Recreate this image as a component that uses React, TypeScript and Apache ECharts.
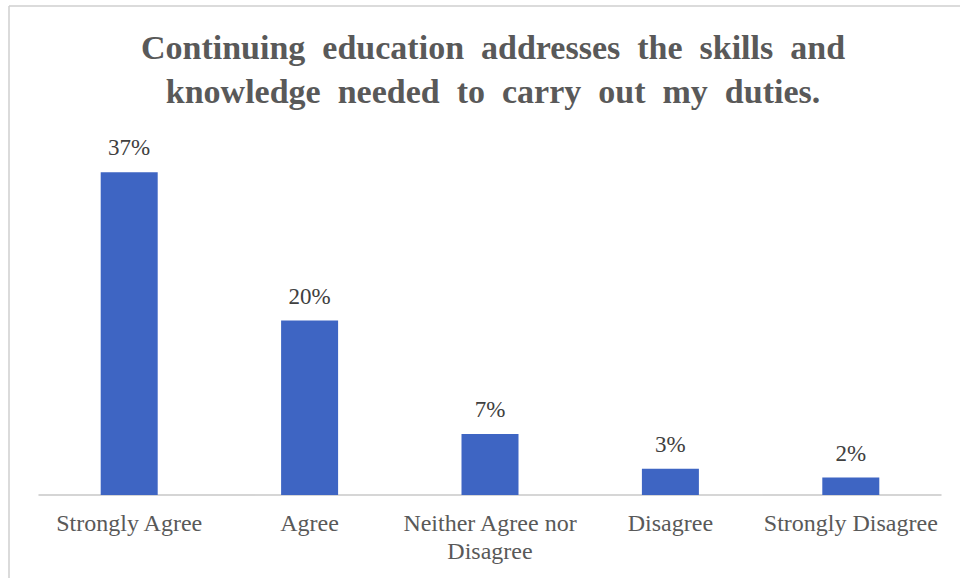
import React, { useEffect, useRef } from "react";
import * as echarts from "echarts";

const categories = [
  "Strongly Agree",
  "Agree",
  "Neither Agree nor\nDisagree",
  "Disagree",
  "Strongly Disagree",
];
const values = [37, 20, 7, 3, 2];
const titleLines = [
  "Continuing education addresses the skills and",
  "knowledge needed to carry out my duties.",
];

const widen = (s: string) => s.split(" ").join(" \u00A0");

export default function App() {
  const ref = useRef<HTMLDivElement>(null);
  useEffect(() => {
    if (!ref.current) return;
    const chart = echarts.init(ref.current, null, { renderer: "svg" });
    chart.setOption({
      animation: false,
      backgroundColor: "#ffffff",
      title: {
        text: titleLines.map(widen).join("\n"),
        left: 488,
        textAlign: "center",
        top: 20,
        textStyle: {
          fontFamily: "Liberation Serif",
          fontWeight: "bold",
          fontSize: 34,
          lineHeight: 44,
          color: "#595959",
        },
      },
      graphic: [
        { type: "line", shape: { x1: 9, y1: 6, x2: 960, y2: 6 }, style: { stroke: "#cfcfcf", lineWidth: 1.5 } },
        { type: "line", shape: { x1: 9, y1: 6, x2: 9, y2: 578 }, style: { stroke: "#cfcfcf", lineWidth: 1.5 } },
      ],
      grid: { left: 39, right: 19, top: 146, bottom: 83 },
      xAxis: {
        type: "category",
        data: categories,
        axisLine: { lineStyle: { color: "#c8c8c8", width: 1.5 } },
        axisTick: { show: false },
        axisLabel: {
          fontFamily: "Liberation Serif",
          fontSize: 24,
          color: "#595959",
          margin: 14,
          lineHeight: 28,
          interval: 0,
        },
      },
      yAxis: {
        type: "value",
        min: 0,
        max: 40,
        show: false,
        splitLine: { show: false },
      },
      series: [
        {
          type: "bar",
          data: values,
          barWidth: 57,
          itemStyle: { color: "#3e65c3" },
          label: {
            show: true,
            position: "top",
            distance: 13,
            formatter: "{c}%",
            fontFamily: "Liberation Serif",
            fontSize: 23,
            color: "#404040",
          },
        },
      ],
    });
    return () => chart.dispose();
  }, []);
  return (
    <div
      ref={ref}
      style={{ position: "absolute", left: 0, top: 0, width: 960, height: 578 }}
    />
  );
}
